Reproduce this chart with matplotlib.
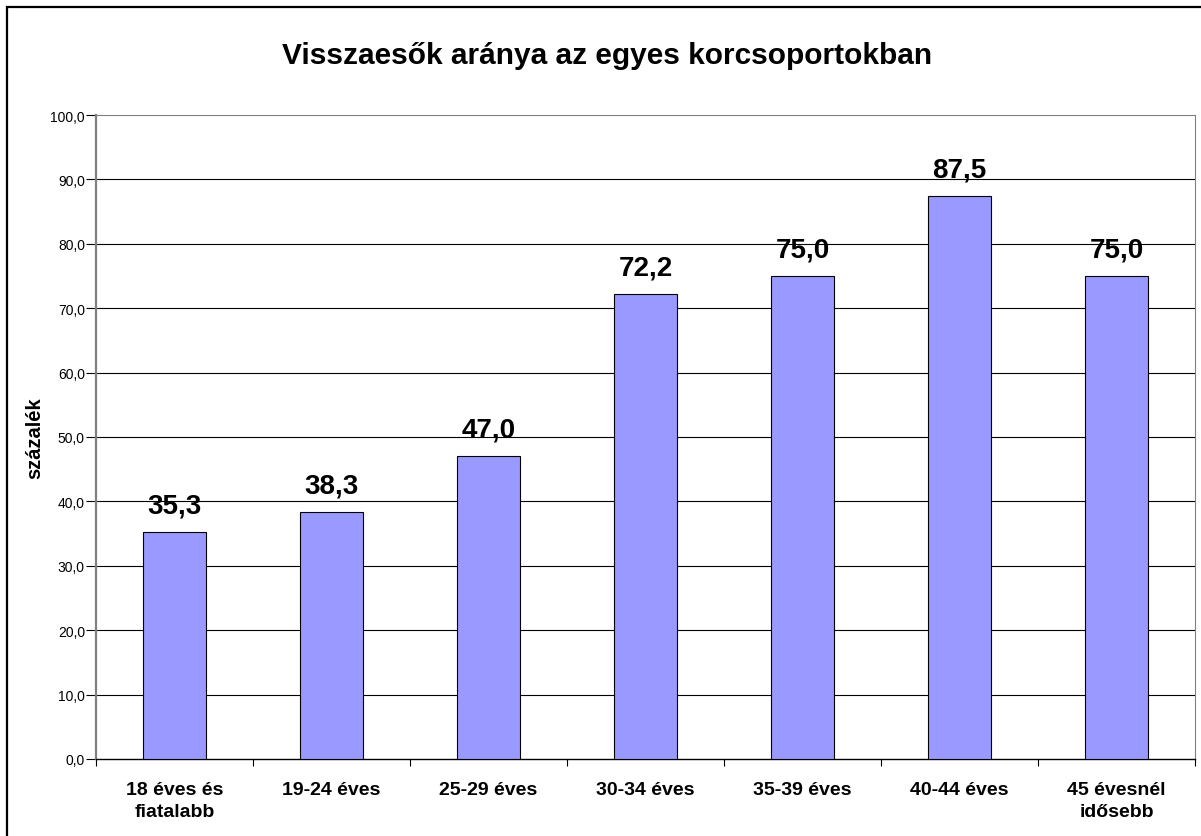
import numpy as np
import matplotlib.pyplot as plt
from matplotlib.patches import Rectangle

plt.rcParams['font.family'] = ['Liberation Sans', 'DejaVu Sans']

categories = ['18 éves és\nfiatalabb', '19-24 éves', '25-29 éves', '30-34 éves',
              '35-39 éves', '40-44 éves', '45 évesnél\nidősebb']
values = [35.3, 38.3, 47.0, 72.2, 75.0, 87.5, 75.0]
yticks = np.arange(0, 101, 10)

W, H = 1201, 837
fig = plt.figure(figsize=(W / 100, H / 100), dpi=100)
ax = fig.add_axes([96 / W, (H - 760) / H, 1099 / W, 644 / H])

x = np.arange(len(categories))
ax.bar(x, values, width=0.4, color='#9999FF', edgecolor='black', linewidth=0.8, zorder=3)

for xi, v in zip(x, values):
    ax.annotate(f'{v:.1f}'.replace('.', ','), (xi, v), xytext=(0, 14), textcoords='offset points',
                ha='center', va='baseline', fontsize=20, fontweight='bold')

ax.set_xlim(-0.5, len(categories) - 0.5)
ax.set_ylim(0, 100)

ax.set_yticks(yticks)
ax.set_yticklabels([f'{t:.1f}'.replace('.', ',') for t in yticks], fontsize=10)
ax.tick_params(axis='y', length=7, width=0.8, color='black', pad=1)
for t in yticks[1:-1]:
    ax.axhline(t, color='black', linewidth=0.8, zorder=1)

ax.set_xticks(np.arange(-0.5, len(categories), 1.0))
ax.set_xticklabels([])
ax.tick_params(axis='x', which='major', length=5, width=0.8, direction='out')
ax.set_xticks(x, minor=True)
ax.set_xticklabels(categories, minor=True, fontsize=14, fontweight='bold', linespacing=1.35)
ax.tick_params(axis='x', which='minor', length=0, pad=16)

ax.spines['left'].set_color('#808080')
ax.spines['left'].set_linewidth(1.6)
ax.spines['top'].set_color('#808080')
ax.spines['right'].set_color('#808080')
ax.spines['bottom'].set_color('black')
ax.spines['bottom'].set_linewidth(1.0)

ax.set_ylabel('százalék', fontsize=14.5, fontweight='bold')
ax.yaxis.set_label_coords(-0.047, 0.5)

fig.text(607 / W, 1 - 56 / H, 'Visszaesők aránya az egyes korcsoportokban',
         ha='center', va='center', fontsize=21.5, fontweight='bold')

fig.patches.append(Rectangle((7 / W, -0.1), 1.2, (H - 8) / H + 0.1, transform=fig.transFigure,
                             fill=False, edgecolor='black', linewidth=1.6))

fig.savefig('out.png', dpi=100)
